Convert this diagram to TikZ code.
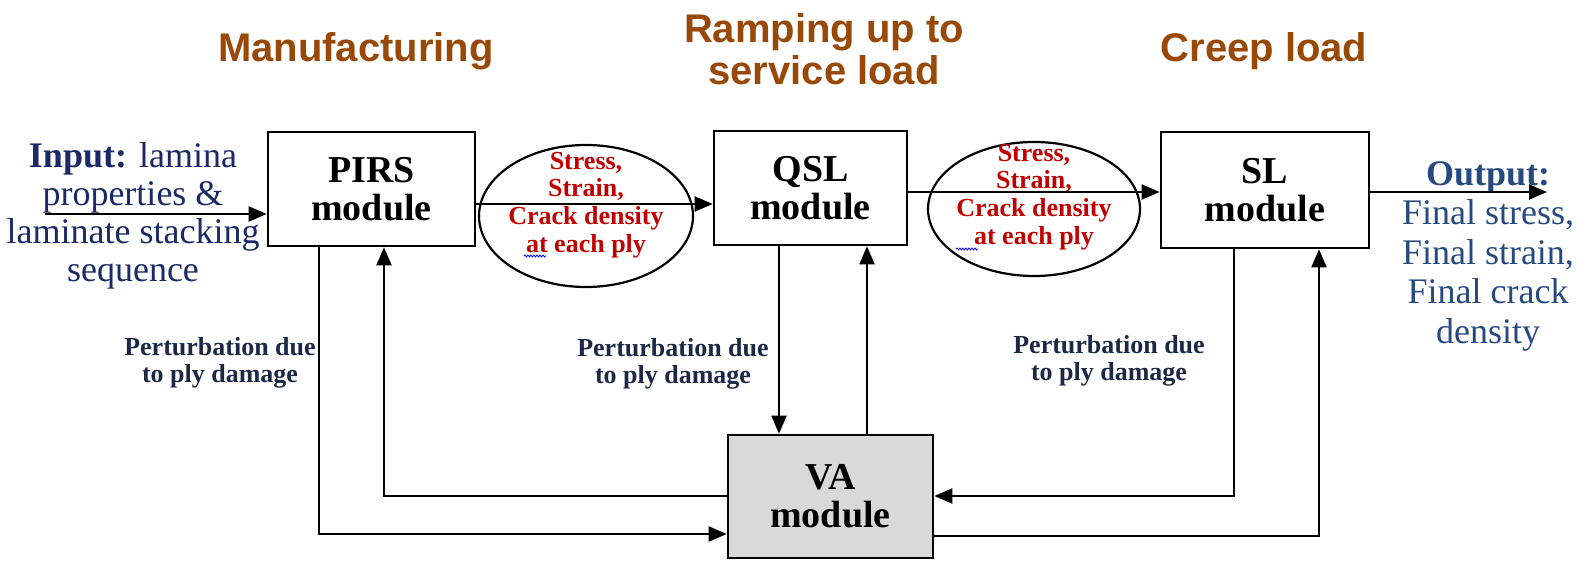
\documentclass[tikz,border=0pt]{standalone}
\usepackage{fontspec}
\setmainfont{Liberation Serif}
\newfontfamily\arialfont{Liberation Sans}
\usetikzlibrary{arrows.meta,shapes.geometric,decorations.pathmorphing}
\definecolor{titlebrown}{RGB}{152,72,7}
\definecolor{inblue}{RGB}{27,42,102}
\definecolor{outblue}{RGB}{38,74,128}
\definecolor{pertblue}{RGB}{28,40,70}
\definecolor{ellred}{RGB}{192,0,0}
\definecolor{vagray}{RGB}{217,217,217}
\tikzset{
  modbox/.style={draw=black, line width=2.6pt, fill=white, inner sep=0pt, align=center,
    font=\fontsize{38}{38}\selectfont\bfseries},
  ellbox/.style={draw=black, line width=2.2pt, ellipse, inner sep=0pt, fill=white},
  elltext/.style={align=center, text=ellred, font=\fontsize{26}{27.7}\selectfont\bfseries},
  arr/.style={line width=2pt, -{Triangle[length=18pt,width=15pt]}},
  titletext/.style={align=center, text=titlebrown, font=\arialfont\fontsize{40}{42}\selectfont\bfseries},
  pert/.style={align=center, text=pertblue, font=\fontsize{26}{27.5}\selectfont\bfseries},
  iotext/.style={align=center, font=\fontsize{36}{38}\selectfont},
  squig/.style={blue, line width=0.8pt, decorate, decoration={snake, amplitude=1pt, segment length=3pt}}
}
\begin{document}
\begin{tikzpicture}[x=1pt,y=-1pt]
\useasboundingbox (0,0) rectangle (1585,561);
% titles
\node[titletext] (t1) at (356,51) {Manufacturing};
\node[titletext] (t2) at (824,49) {Ramping up to\\service load};
\node[titletext] (t3) at (1264,51) {Creep load};
% modules
\node[modbox, minimum width=207pt, minimum height=114pt] (PIRS) at (371.5,189) {PIRS\\module};
\node[modbox, minimum width=193pt, minimum height=114pt] (QSL) at (810.5,188) {QSL\\module};
\node[modbox, minimum width=208pt, minimum height=116pt] (SL) at (1265,190) {SL\\module};
\node[modbox, fill=vagray, minimum width=205pt, minimum height=123pt] (VA) at (830.5,496.5) {VA\\module};
% ellipses
\node[ellbox, minimum width=214pt, minimum height=142pt] (E1) at (586,216) {};
\node[ellbox, minimum width=212pt, minimum height=134pt] (E2) at (1034,209) {};
\node[elltext] (E1t) at (586,205) {Stress,\\Strain,\\Crack density\\at each ply};
\node[elltext] (E2t) at (1034,197) {Stress,\\Strain,\\Crack density\\at each ply};
% input / output
\node[iotext, text=inblue] (in) at (133,216) {\textbf{Input:} lamina\\properties \&\\laminate stacking\\sequence};
\node[iotext, text=outblue, font=\fontsize{36}{39.5}\selectfont] (out) at (1488,256) {\textbf{Output:}\\Final stress,\\Final strain,\\Final crack\\density};
% perturbation labels
\node[pert] (pl1) at (220,363) {Perturbation due\\to ply damage};
\node[pert] (pl2) at (673,364) {Perturbation due\\to ply damage};
\node[pert] (pl3) at (1109,361) {Perturbation due\\to ply damage};
% coordinates
\coordinate (inS) at (45,214);
\coordinate (y1) at (0,204);
\coordinate (y2) at (0,192);
\coordinate (outE) at (1547,192);
\coordinate (p1) at (319,534);
\coordinate (p2) at (384,496);
\coordinate (q1) at (779,0);
\coordinate (q2) at (867,0);
\coordinate (s1) at (1234,496);
\coordinate (s2) at (1319,536);
% main flow
\draw[arr] (inS) -- (inS -| PIRS.west);
\draw[arr] (PIRS.east |- y1) -- (QSL.west |- y1);
\draw[arr] (QSL.east |- y2) -- (SL.west |- y2);
\draw[arr] (SL.east |- outE) -- (outE);
% feedback loops
\draw[arr] (PIRS.south -| p1) -- (p1) -- (p1 -| VA.west);
\draw[arr] (VA.west |- p2) -- (p2) -- (p2 |- PIRS.south);
\draw[arr] (QSL.south -| q1) -- (VA.north -| q1);
\draw[arr] (VA.north -| q2) -- (QSL.south -| q2);
\draw[arr] (SL.south -| s1) -- (s1) -- (s1 -| VA.east);
\draw[arr] (VA.east |- s2) -- (s2) -- (s2 |- SL.south);
% spell-check squiggles
\draw[squig] (524,256) -- (546,256);
\draw[squig] (956,249) -- (978,249);
\end{tikzpicture}
\end{document}
